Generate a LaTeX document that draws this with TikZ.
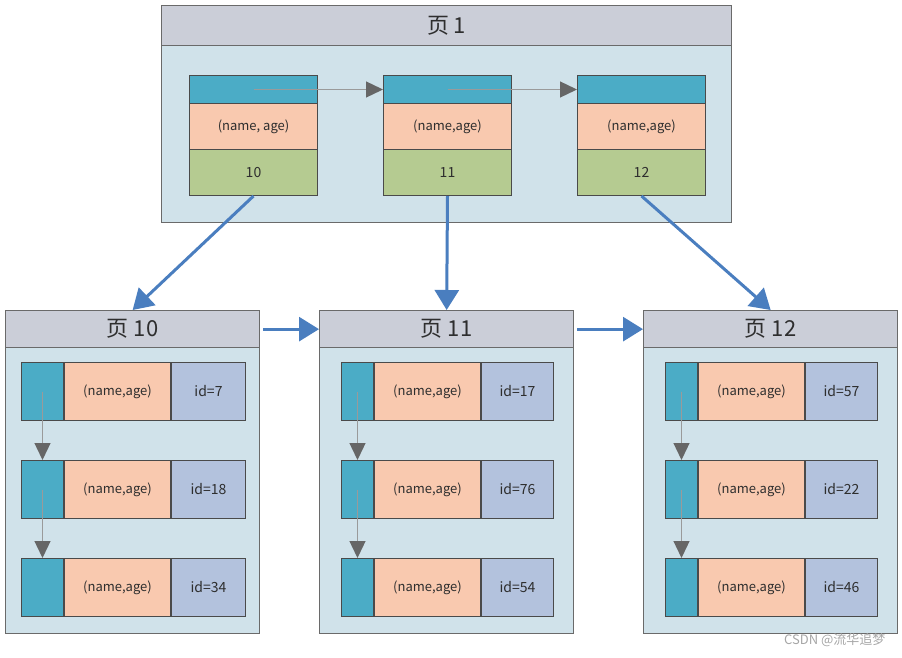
\documentclass[tikz,border=0pt]{standalone}
\usepackage{fontspec}
\setmainfont{Noto Sans CJK SC}
\usetikzlibrary{arrows.meta}
\definecolor{hdrc}{HTML}{CBCED8}
\definecolor{bodyc}{HTML}{D0E2EA}
\definecolor{tealc}{HTML}{4BACC6}
\definecolor{pinkc}{HTML}{F9C9AF}
\definecolor{greenc}{HTML}{B5CB91}
\definecolor{lavc}{HTML}{B3C2DD}
\definecolor{linec}{HTML}{4A4A4A}
\definecolor{pagec}{HTML}{6A6A6A}
\definecolor{bluec}{HTML}{4A7EBF}
\definecolor{glinec}{HTML}{9A9A9A}
\definecolor{gheadc}{HTML}{666666}
\definecolor{txtc}{HTML}{2E2E2E}
\newcommand\mkrow[6]{%
  \node[cell,fill=tealc,minimum width=#4,anchor=north west] (#1a) at (#2,#3) {};
  \node[cell,fill=pinkc,minimum width=106,anchor=north west] (#1b) at (#1a.north east) {(name,age)};
  \node[cell,fill=lavc,minimum width=#5,anchor=north west,font=\fontsize{14}{16}\selectfont] (#1c) at (#1b.north east) {#6};
}
\begin{document}
\begin{tikzpicture}[x=1pt,y=-1pt,
  every node/.style={text=txtc},
  pagebody/.style={draw=pagec,line width=1.3pt,fill=bodyc,inner sep=0,anchor=north west},
  pagehdr/.style={draw=pagec,line width=1.3pt,fill=hdrc,inner sep=0,anchor=north west,font=\fontsize{22}{24}\selectfont},
  cell/.style={draw=linec,line width=1pt,inner sep=0,minimum height=58,font=\fontsize{13}{15}\selectfont},
  tcell/.style={draw=linec,line width=1pt,inner sep=0,minimum width=128,anchor=north west,font=\fontsize{13}{15}\selectfont},
  garrow/.style={draw=glinec,line width=1.3pt,-{Triangle[length=17pt,width=16pt,fill=gheadc,color=gheadc]}},
  barrow/.style={draw=bluec,line width=3pt,-{Triangle[length=20pt,width=24pt]}}
]
\useasboundingbox (0,0) rectangle (902,658);

% ---------- top page ----------
\node[pagebody,minimum width=570,minimum height=177] (p1) at (161,45) {};
\node[pagehdr,minimum width=570,minimum height=40] (p1h) at (161,5) {页 1};

\foreach \i/\x/\lab/\nm in {1/189/10/{(name, age)},2/383/11/{(name,age)},3/577/12/{(name,age)}}{
  \node[tcell,fill=tealc,minimum height=28] (t\i) at (\x,75) {};
  \node[tcell,fill=pinkc,minimum height=46] (m\i) at (\x,103) {\nm};
  \node[tcell,fill=greenc,minimum height=46,font=\fontsize{14}{16}\selectfont] (b\i) at (\x,149) {\lab};
}
\draw[garrow] (t1.center) -- (t2.west);
\draw[garrow] (t2.center) -- (t3.west);

% ---------- leaf pages ----------
\node[pagebody,minimum width=254,minimum height=286] (q10) at (5,347) {};
\node[pagehdr,minimum width=254,minimum height=37] (q10h) at (5,310) {页 10};
\node[pagebody,minimum width=254,minimum height=286] (q11) at (319,347) {};
\node[pagehdr,minimum width=254,minimum height=37] (q11h) at (319,310) {页 11};
\node[pagebody,minimum width=254,minimum height=286] (q12) at (643,347) {};
\node[pagehdr,minimum width=254,minimum height=37] (q12h) at (643,310) {页 12};

\mkrow{ra1}{21}{362}{42}{74}{id=7}
\mkrow{ra2}{21}{460}{42}{74}{id=18}
\mkrow{ra3}{21}{558}{42}{74}{id=34}
\mkrow{rb1}{341}{362}{32}{72}{id=17}
\mkrow{rb2}{341}{460}{32}{72}{id=76}
\mkrow{rb3}{341}{558}{32}{72}{id=54}
\mkrow{rc1}{665}{362}{32}{72}{id=57}
\mkrow{rc2}{665}{460}{32}{72}{id=22}
\mkrow{rc3}{665}{558}{32}{72}{id=46}

\foreach \p in {ra,rb,rc}{
  \draw[garrow] (\p1a.center) -- (\p2a.north);
  \draw[garrow] (\p2a.center) -- (\p3a.north);
}

% ---------- blue arrows ----------
\draw[barrow] (b1.south) -- (q10h.north);
\draw[barrow] (b2.south) -- (q11h.north);
\draw[barrow] (b3.south) -- (q12h.north);
\draw[barrow,shorten <=3pt] (q10h.east) -- (q11h.west);
\draw[barrow,shorten <=3pt] (q11h.east) -- (q12h.west);

% watermark
\node[text=gray!70,font=\fontsize{13}{15}\selectfont,anchor=east] (wm) at (889,640) {CSDN @流华追梦};
\end{tikzpicture}
\end{document}
